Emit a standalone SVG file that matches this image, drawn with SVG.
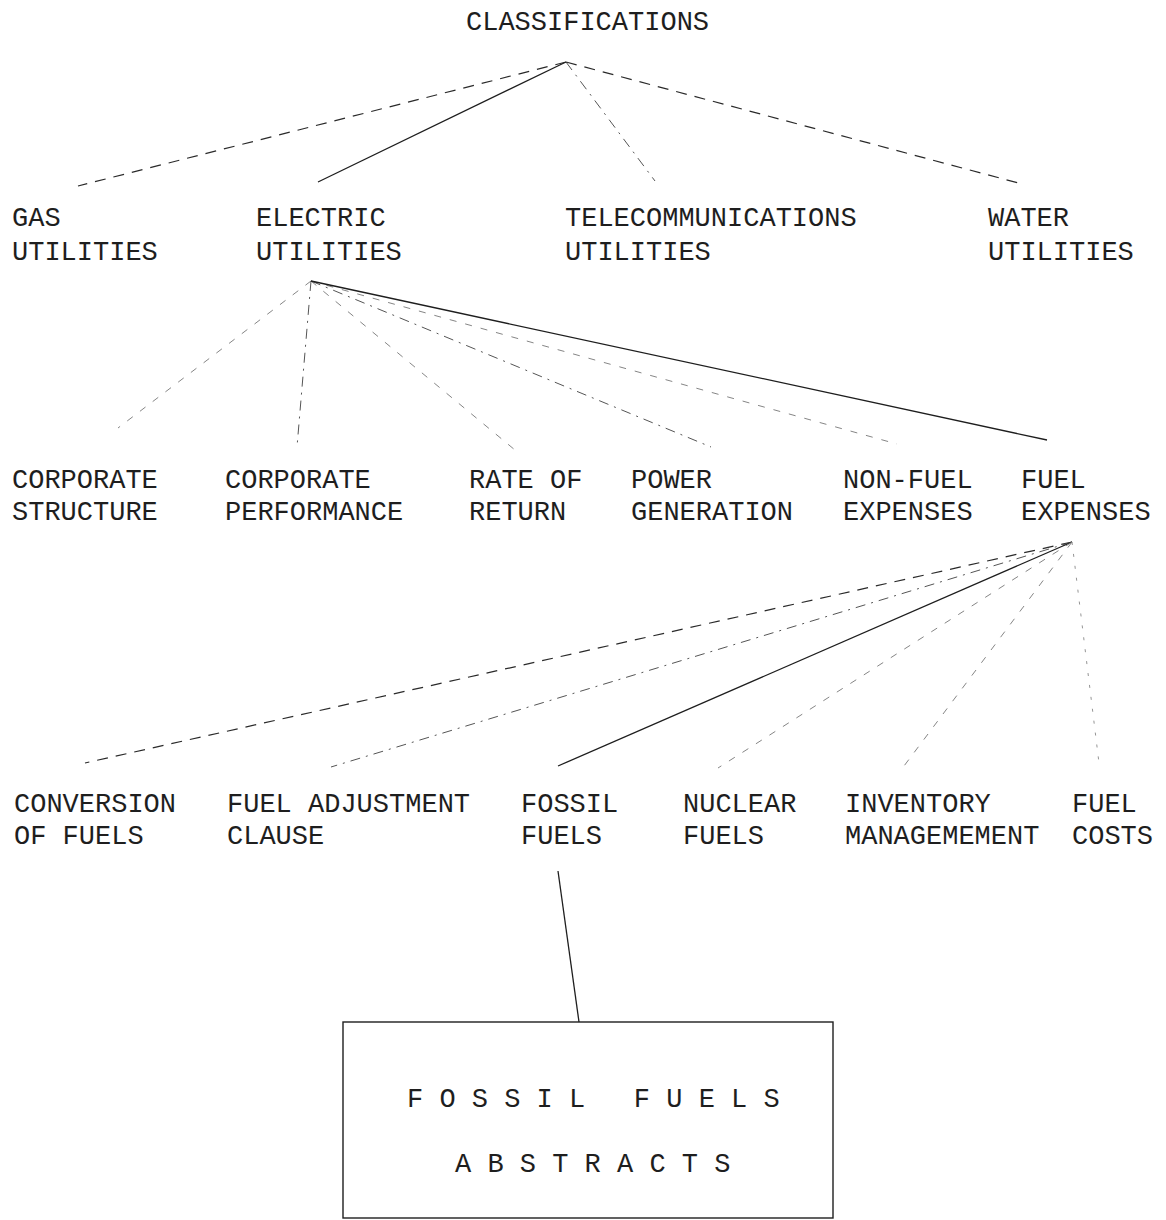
<svg xmlns="http://www.w3.org/2000/svg" width="1166" height="1220" viewBox="0 0 1166 1220">
<style>
  .lbl { font-family: "Liberation Mono", "Courier New", monospace; font-size: 27px; fill: #1e1e1e; }
  .box { font-family: "Liberation Mono", "Courier New", monospace; font-size: 27px; fill: #1e1e1e; }
  .solid { stroke: #1e1e1e; stroke-width: 1.3; fill: none; }
  .dash { stroke: #2a2a2a; stroke-width: 1.2; fill: none; stroke-dasharray: 11 8; }
  .dashdot { stroke: #555; stroke-width: 1; fill: none; stroke-dasharray: 10 6 2 6; }
  .faint { stroke: #777; stroke-width: 0.9; fill: none; stroke-dasharray: 7 9; }
  .dotted { stroke: #888; stroke-width: 0.9; fill: none; stroke-dasharray: 3 9; }
</style>
<rect width="1166" height="1220" fill="#ffffff"/>

<g id="connectors">
  <!-- level 1 -->
  <line class="dash" x1="566" y1="62" x2="78" y2="186"/>
  <line class="solid" x1="566" y1="62" x2="318" y2="182"/>
  <line class="dashdot" x1="566" y1="62" x2="655" y2="181"/>
  <line class="dash" x1="566" y1="62" x2="1022" y2="184"/>
  <!-- level 2 -->
  <line class="faint" x1="311" y1="281" x2="118" y2="428"/>
  <line class="dashdot" x1="311" y1="281" x2="297" y2="447"/>
  <line class="faint" x1="311" y1="281" x2="515" y2="450"/>
  <line class="dashdot" x1="311" y1="281" x2="711" y2="447"/>
  <line class="faint" x1="311" y1="281" x2="897" y2="444"/>
  <line class="solid" x1="311" y1="281" x2="1047" y2="440"/>
  <!-- level 3 -->
  <line class="dash" x1="1072" y1="542" x2="85" y2="763"/>
  <line class="dashdot" x1="1072" y1="542" x2="331" y2="767"/>
  <line class="solid" x1="1072" y1="542" x2="558" y2="766"/>
  <line class="faint" x1="1072" y1="542" x2="718" y2="768"/>
  <line class="faint" x1="1072" y1="542" x2="901" y2="770"/>
  <line class="dotted" x1="1072" y1="542" x2="1099" y2="763"/>
  <!-- to box -->
  <line class="solid" x1="558" y1="871" x2="579" y2="1022"/>
</g>

<g id="classifications">
  <text class="lbl" x="466" y="30">CLASSIFICATIONS</text>
</g>

<g id="gas-utilities">
  <text class="lbl" x="12" y="226">GAS</text>
  <text class="lbl" x="12" y="260">UTILITIES</text>
</g>
<g id="electric-utilities">
  <text class="lbl" x="256" y="226">ELECTRIC</text>
  <text class="lbl" x="256" y="260">UTILITIES</text>
</g>
<g id="telecommunications-utilities">
  <text class="lbl" x="565" y="226">TELECOMMUNICATIONS</text>
  <text class="lbl" x="565" y="260">UTILITIES</text>
</g>
<g id="water-utilities">
  <text class="lbl" x="988" y="226">WATER</text>
  <text class="lbl" x="988" y="260">UTILITIES</text>
</g>

<g id="corporate-structure">
  <text class="lbl" x="12" y="488">CORPORATE</text>
  <text class="lbl" x="12" y="520">STRUCTURE</text>
</g>
<g id="corporate-performance">
  <text class="lbl" x="225" y="488">CORPORATE</text>
  <text class="lbl" x="225" y="520">PERFORMANCE</text>
</g>
<g id="rate-of-return">
  <text class="lbl" x="469" y="488">RATE OF</text>
  <text class="lbl" x="469" y="520">RETURN</text>
</g>
<g id="power-generation">
  <text class="lbl" x="631" y="488">POWER</text>
  <text class="lbl" x="631" y="520">GENERATION</text>
</g>
<g id="non-fuel-expenses">
  <text class="lbl" x="843" y="488">NON-FUEL</text>
  <text class="lbl" x="843" y="520">EXPENSES</text>
</g>
<g id="fuel-expenses">
  <text class="lbl" x="1021" y="488">FUEL</text>
  <text class="lbl" x="1021" y="520">EXPENSES</text>
</g>

<g id="conversion-of-fuels">
  <text class="lbl" x="14" y="812">CONVERSION</text>
  <text class="lbl" x="14" y="844">OF FUELS</text>
</g>
<g id="fuel-adjustment-clause">
  <text class="lbl" x="227" y="812">FUEL ADJUSTMENT</text>
  <text class="lbl" x="227" y="844">CLAUSE</text>
</g>
<g id="fossil-fuels">
  <text class="lbl" x="521" y="812">FOSSIL</text>
  <text class="lbl" x="521" y="844">FUELS</text>
</g>
<g id="nuclear-fuels">
  <text class="lbl" x="683" y="812">NUCLEAR</text>
  <text class="lbl" x="683" y="844">FUELS</text>
</g>
<g id="inventory-management">
  <text class="lbl" x="845" y="812">INVENTORY</text>
  <text class="lbl" x="845" y="844">MANAGEMEMENT</text>
</g>
<g id="fuel-costs">
  <text class="lbl" x="1072" y="812">FUEL</text>
  <text class="lbl" x="1072" y="844">COSTS</text>
</g>

<g id="fossil-fuels-abstracts">
  <rect x="343" y="1022" width="490" height="196" fill="none" stroke="#1e1e1e" stroke-width="1.4"/>
  <text class="box" x="407" y="1107" xml:space="preserve">F O S S I L   F U E L S</text>
  <text class="box" x="455" y="1172" xml:space="preserve">A B S T R A C T S</text>
</g>
</svg>
